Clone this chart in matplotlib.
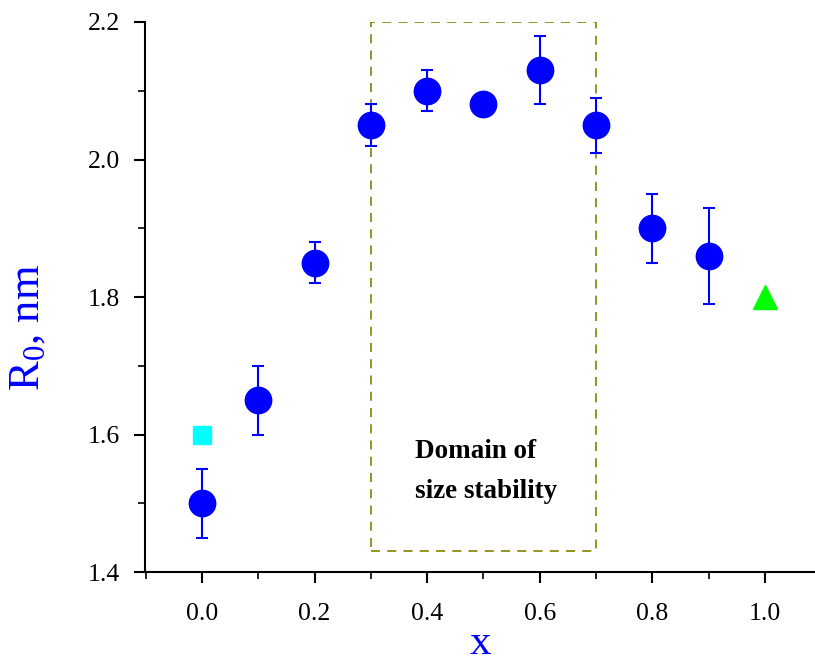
import numpy as np
import matplotlib.pyplot as plt
from matplotlib.patches import Rectangle
from matplotlib.ticker import MultipleLocator

plt.rcParams['font.family'] = ['Liberation Serif', 'DejaVu Serif']
plt.rcParams['mathtext.fontset'] = 'custom'
plt.rcParams['mathtext.rm'] = 'Liberation Serif'
plt.rcParams['mathtext.it'] = 'Liberation Serif:italic'

# data
x = [0.0, 0.1, 0.2, 0.3, 0.4, 0.5, 0.6, 0.7, 0.8, 0.9]
r0 = [1.50, 1.65, 1.85, 2.05, 2.10, 2.08, 2.13, 2.05, 1.90, 1.86]
r0_err = [0.05, 0.05, 0.03, 0.03, 0.03, 0.0, 0.05, 0.04, 0.05, 0.07]
sq_x, sq_y = [0.0], [1.60]
tri_x, tri_y = [1.0], [1.80]
domain = (0.3, 0.7)
domain_y = (1.43, 2.2)

fig = plt.figure(figsize=(8.15, 6.66), dpi=100)
ax = fig.add_axes([0.178, 0.141, 0.822, 0.826])

ax.errorbar(x, r0, yerr=r0_err, fmt='o', color='blue', ms=19,
            elinewidth=1.5, capsize=4.5, capthick=1.5, zorder=3)
ax.plot(sq_x, sq_y, 's', color='cyan', ms=13, zorder=3)
ax.plot(tri_x, tri_y, '^', color='lime', ms=17, zorder=3)

rect = Rectangle((domain[0], domain_y[0]), domain[1] - domain[0],
                 domain_y[1] - domain_y[0], fill=False, ls=(0, (5, 4)),
                 lw=1.3, edgecolor='#8c8c10', zorder=2)
ax.add_patch(rect)
ax.text(0.378, 1.546, "Domain of\nsize stability", fontsize=19.5,
        fontweight='bold', ha='left', va='center', linespacing=1.8)

ax.set_xlim(-0.101, 1.089)
ax.set_ylim(1.4, 2.2)
ax.xaxis.set_major_locator(MultipleLocator(0.2))
ax.xaxis.set_minor_locator(MultipleLocator(0.1))
ax.yaxis.set_major_locator(MultipleLocator(0.2))
ax.yaxis.set_minor_locator(MultipleLocator(0.1))
ax.xaxis.set_major_formatter(plt.FormatStrFormatter('%.1f'))
ax.yaxis.set_major_formatter(plt.FormatStrFormatter('%.1f'))

for s in ['top', 'right']:
    ax.spines[s].set_visible(False)
for s in ['left', 'bottom']:
    ax.spines[s].set_linewidth(1.5)
ax.tick_params(which='major', direction='out', length=8, width=1.5,
               labelsize=18.5, pad=10)
ax.tick_params(axis='x', which='major', pad=14)
ax.tick_params(which='minor', direction='out', length=5, width=1.2)

ax.set_xlabel('x', color='blue', fontsize=31, labelpad=0)
ax.set_ylabel('R$_0$, nm', color='blue', fontsize=32, labelpad=26)
ax.yaxis.set_label_coords(-0.145, 0.444)

fig.savefig('out.png', dpi=100)
